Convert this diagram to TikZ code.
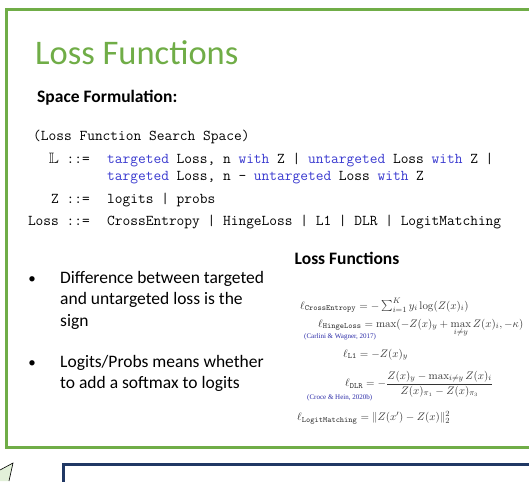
\documentclass[tikz,border=0pt]{standalone}
\usepackage{amsmath,amssymb}
\usepackage[no-math]{fontspec}
\setmainfont{Carlito}
\newfontfamily\citefont{Liberation Serif}
\usepackage{tikz}
\usetikzlibrary{positioning,calc}
\definecolor{framegreen}{HTML}{70AD47}
\definecolor{framenavy}{HTML}{203864}
\definecolor{kwblue}{HTML}{3A3AD0}
\definecolor{citeblue}{HTML}{2B2BA8}
\definecolor{pointfill}{HTML}{E2F0D9}
\newcommand{\kw}[1]{\textcolor{kwblue}{#1}}
\tikzset{
  gframe/.style={draw=framegreen,line width=3pt},
  nframe/.style={draw=framenavy,line width=3pt},
  codeline/.style={inner sep=0pt,font=\fontsize{15}{18}\selectfont\ttfamily},
  btext/.style={anchor=north west,inner sep=0pt,align=left,font=\fontsize{17.5}{21.5}\selectfont},
  bdot/.style={inner sep=0pt,font=\fontsize{15}{18}\selectfont},
  eqn/.style={inner sep=0pt,text=black!80,font=\fontsize{11}{13}\selectfont},
  cite/.style={inner sep=0pt,text=citeblue,font=\fontsize{7}{8}\selectfont\citefont}
}

\begin{document}
\begin{tikzpicture}[x=1pt,y=-1pt]
  \useasboundingbox (0,0) rectangle (529,481);
  \clip (0,0) rectangle (529,481);
  \fill[white] (0,0) rectangle (529,481);
  \draw[gframe] (6,10) rectangle (560,447);
  \draw[nframe] (63,464) rectangle (560,520);
  \fill[pointfill] (0,470) -- (13,463) -- (9,481) -- (0,481) -- cycle;
  \draw[line width=0.6pt] (0,470) -- (13,463) -- (9,481);

  \node[anchor=base west,inner sep=0pt,text=framegreen,font=\fontsize{34.5}{40}\selectfont] (title) at (35,65) {Loss Functions};
  \node[anchor=base west,inner sep=0pt,font=\fontsize{17.5}{21}\selectfont\bfseries] (space) at (37,103) {Space Formulation:};

  \node[codeline,anchor=base west] (hdr) at (33,141) {(Loss Function Search Space)};
  \node[codeline,anchor=base east] (lhsL) at (90,163) {$\mathbb{L}$ ::=};
  \node[codeline,anchor=base west] (rhsL) at (107,163) {\kw{targeted} Loss, n \kw{with} Z | \kw{untargeted} Loss \kw{with} Z |};
  \node[codeline,anchor=base west] (rhsLb) at (107,180) {\kw{targeted} Loss, n - \kw{untargeted} Loss \kw{with} Z};
  \node[codeline,anchor=base east] (lhsZ) at (90,203) {Z ::=};
  \node[codeline,anchor=base west] (rhsZ) at (107,203) {logits | probs};
  \node[codeline,anchor=base east] (lhsLoss) at (90,225) {Loss ::=};
  \node[codeline,anchor=base west] (rhsLoss) at (107,225) {CrossEntropy | HingeLoss | L1 | DLR | LogitMatching};

  \node[btext] (b1) at (60,271) {Difference between targeted\\and untargeted loss is the\\sign};
  \node[btext] (b2) at (60,355) {Logits/Probs means whether\\to add a softmax to logits};
  \node[bdot] (d1) at (32,280) {\textbullet};
  \node[bdot] (d2) at (32,364) {\textbullet};

  \node[anchor=base,inner sep=0pt,font=\fontsize{17.5}{21}\selectfont\bfseries] (lfhead) at (347,264) {Loss Functions};
  \node[eqn,anchor=base west] (ce) at (300,309) {$\ell_{\mathtt{CrossEntropy}} = -\sum_{i=1}^{K} y_i \log(Z(x)_i)$};
  \node[eqn,anchor=base west] (hinge) at (318,327) {$\ell_{\mathtt{HingeLoss}} = \max(-Z(x)_y + \max\limits_{i\neq y} Z(x)_i, -\kappa)$};
  \node[cite,anchor=west] (carlini) at (304,337) {(Carlini \& Wagner, 2017)};
  \node[eqn,anchor=base west] (l1) at (343,357) {$\ell_{\mathtt{L1}} = -Z(x)_y$};
  \node[eqn,anchor=west] (dlr) at (345,384) {$\ell_{\mathtt{DLR}} = -\dfrac{Z(x)_y - \max_{i\neq y} Z(x)_i}{Z(x)_{\pi_1} - Z(x)_{\pi_3}}$};
  \node[cite,anchor=west] (croce) at (307,398) {(Croce \& Hein, 2020b)};
  \node[eqn,anchor=west] (lm) at (297,418) {$\ell_{\mathtt{LogitMatching}} = \|Z(x') - Z(x)\|_2^2$};
\end{tikzpicture}
\end{document}
